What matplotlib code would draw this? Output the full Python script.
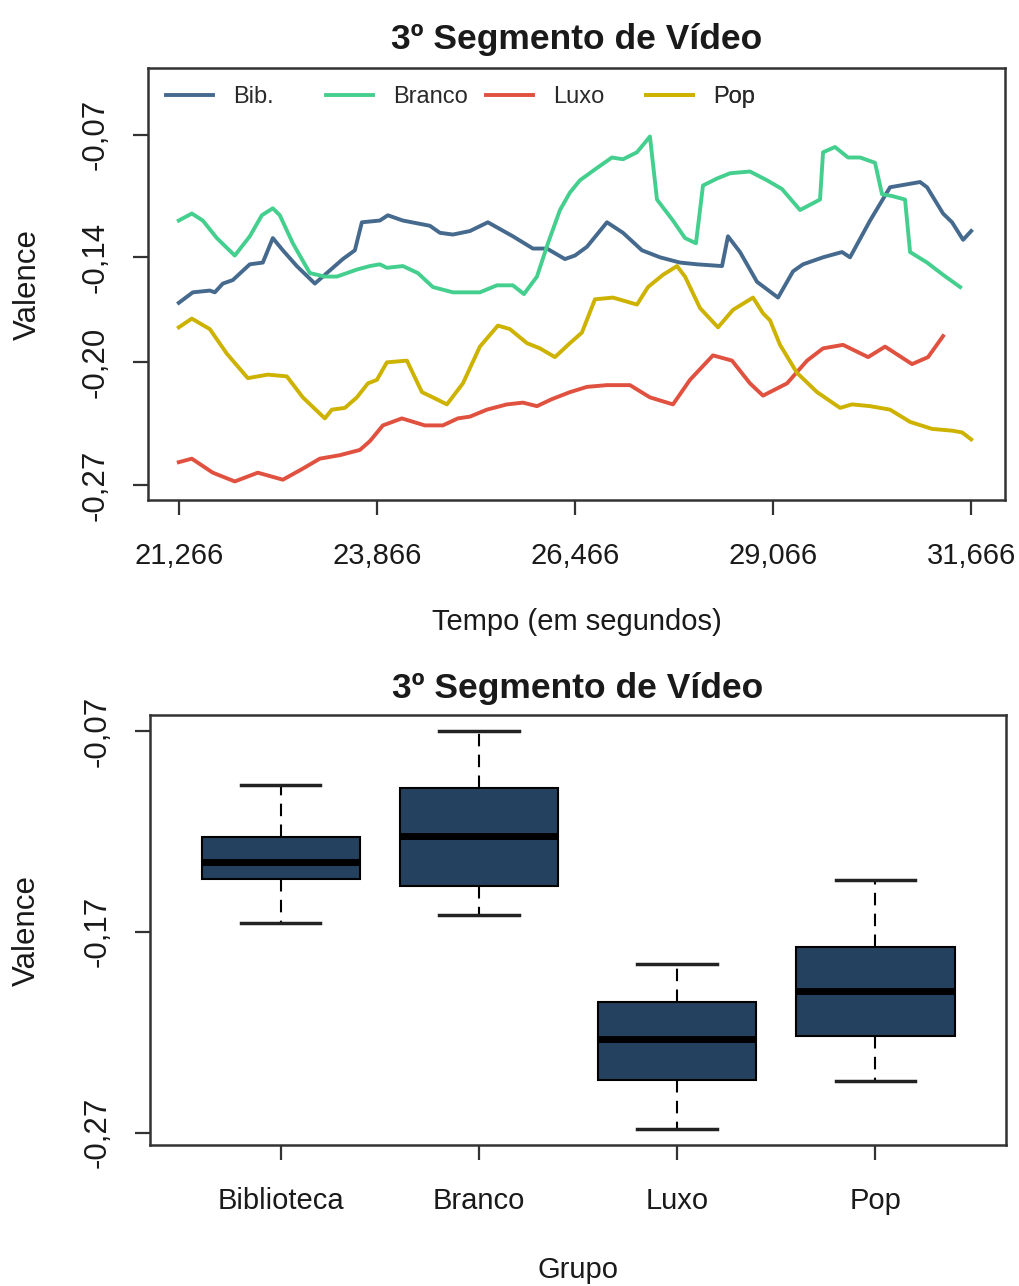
import matplotlib
matplotlib.use('Agg')
import matplotlib.pyplot as plt
from matplotlib.lines import Line2D

plt.rcParams['font.family'] = ['Liberation Sans', 'DejaVu Sans']

# ---- series (time in s, valence)
bib_t = [21266, 21450, 21673, 21739, 21844, 21975, 22198, 22369, 22500, 22632,
         22815, 23052, 23209, 23419, 23577, 23669, 23905, 24010, 24207, 24562,
         24693, 24864, 25087, 25323, 25651, 25914, 26098, 26334, 26465, 26623,
         26886, 27096, 27345, 27582, 27844, 28067, 28396, 28474, 28632, 28855,
         29131, 29328, 29459, 29722, 29971, 30076, 30339, 30601, 30995, 31087,
         31297, 31415, 31560, 31666]
bib_v = [-0.166, -0.160, -0.159, -0.160, -0.155, -0.153, -0.144, -0.143, -0.129, -0.136,
         -0.145, -0.155, -0.149, -0.141, -0.136, -0.120, -0.119, -0.116, -0.119, -0.122,
         -0.126, -0.127, -0.125, -0.120, -0.128, -0.135, -0.135, -0.141, -0.139, -0.134,
         -0.120, -0.126, -0.136, -0.140, -0.143, -0.144, -0.145, -0.128, -0.137, -0.154,
         -0.163, -0.148, -0.144, -0.140, -0.137, -0.140, -0.119, -0.100, -0.097, -0.100,
         -0.115, -0.120, -0.130, -0.125]

branco_t = [21266, 21437, 21581, 21765, 22001, 22198, 22356, 22500, 22592, 22763,
            22986, 23183, 23341, 23603, 23774, 23905, 23997, 24207, 24404, 24601,
            24864, 25218, 25441, 25651, 25796, 25967, 26111, 26269, 26400, 26531,
            26754, 26951, 27096, 27280, 27450, 27542, 27752, 27910, 28054, 28146,
            28330, 28501, 28763, 28986, 29183, 29420, 29682, 29722, 29879, 30050,
            30208, 30404, 30496, 30628, 30798, 30864, 31087, 31297, 31521]
branco_v = [-0.119, -0.115, -0.119, -0.129, -0.139, -0.128, -0.116, -0.112, -0.116, -0.132,
            -0.149, -0.151, -0.151, -0.147, -0.145, -0.144, -0.146, -0.145, -0.149, -0.157,
            -0.160, -0.160, -0.156, -0.156, -0.161, -0.151, -0.132, -0.113, -0.103, -0.096,
            -0.089, -0.083, -0.084, -0.080, -0.071, -0.107, -0.119, -0.129, -0.132, -0.099,
            -0.095, -0.092, -0.091, -0.096, -0.101, -0.113, -0.107, -0.080, -0.077, -0.083,
            -0.083, -0.086, -0.104, -0.105, -0.107, -0.137, -0.143, -0.150, -0.157]

luxo_t = [21266, 21437, 21712, 22001, 22303, 22632, 22881, 23117, 23380, 23643,
          23774, 23945, 24194, 24496, 24732, 24929, 25087, 25310, 25573, 25783,
          25967, 26163, 26400, 26623, 26886, 27188, 27450, 27752, 27975, 28277,
          28527, 28763, 28934, 29249, 29512, 29722, 29984, 30313, 30536, 30890,
          31100, 31297]
luxo_v = [-0.257, -0.255, -0.263, -0.268, -0.263, -0.267, -0.261, -0.255, -0.253, -0.250,
          -0.245, -0.236, -0.232, -0.236, -0.236, -0.232, -0.231, -0.227, -0.224, -0.223,
          -0.225, -0.221, -0.217, -0.214, -0.213, -0.213, -0.220, -0.224, -0.210, -0.196,
          -0.199, -0.212, -0.219, -0.212, -0.199, -0.192, -0.190, -0.197, -0.191, -0.201,
          -0.197, -0.185]

pop_t = [21266, 21437, 21673, 21896, 22172, 22435, 22684, 22894, 23183, 23275,
         23446, 23603, 23748, 23866, 23997, 24260, 24457, 24601, 24785, 24995,
         25218, 25454, 25612, 25835, 26006, 26203, 26400, 26557, 26728, 26964,
         27280, 27424, 27621, 27805, 27910, 28107, 28343, 28540, 28803, 28934,
         29026, 29157, 29380, 29643, 29945, 30102, 30339, 30601, 30864, 31153,
         31415, 31547, 31666]
pop_v = [-0.180, -0.175, -0.181, -0.195, -0.209, -0.207, -0.208, -0.220, -0.232, -0.227,
         -0.226, -0.220, -0.212, -0.210, -0.200, -0.199, -0.217, -0.220, -0.224, -0.212,
         -0.191, -0.179, -0.181, -0.189, -0.192, -0.197, -0.189, -0.183, -0.164, -0.163,
         -0.167, -0.157, -0.150, -0.145, -0.151, -0.169, -0.180, -0.170, -0.163, -0.172,
         -0.176, -0.190, -0.206, -0.217, -0.226, -0.224, -0.225, -0.227, -0.234, -0.238,
         -0.239, -0.240, -0.244]

line_names = ['Bib.', 'Branco', 'Luxo', 'Pop']
line_colors = ['#456a8e', '#45cf8e', '#e0513f', '#cdb200']

x_ticks = [21266, 23866, 26466, 29066, 31666]
x_ticklabels = ['21,266', '23,866', '26,466', '29,066', '31,666']
y_ticks_top = [-0.07, -0.14, -0.20, -0.27]
y_ticklabels_top = ['-0,07', '-0,14', '-0,20', '-0,27']

# ---- boxplot summary per group
groups = ['Biblioteca', 'Branco', 'Luxo', 'Pop']
whislo = [-0.1658, -0.1617, -0.2683, -0.2444]
q1 = [-0.1439, -0.1473, -0.2440, -0.2217]
med = [-0.1353, -0.1221, -0.2235, -0.1994]
q3 = [-0.1229, -0.0984, -0.2052, -0.1777]
whishi = [-0.0969, -0.0703, -0.1860, -0.1440]
y_ticks_bot = [-0.07, -0.17, -0.27]
y_ticklabels_bot = ['-0,07', '-0,17', '-0,27']

title = '3º Segmento de Vídeo'
edge = '#333333'
txt = '#1a1a1a'

fig = plt.figure(figsize=(10.2, 12.86), dpi=100)
ax1 = fig.add_axes([0.1451, 0.6112, 0.8402, 0.3359])
ax2 = fig.add_axes([0.1471, 0.1096, 0.8392, 0.3344])

# top: lines
series = [(bib_t, bib_v), (branco_t, branco_v), (luxo_t, luxo_v), (pop_t, pop_v)]
for (t, v), c in zip(series, line_colors):
    ax1.plot(t, v, color=c, lw=2.8, solid_joinstyle='round')

ax1.set_xlim(20862, 32110)
ax1.set_ylim(-0.2786, -0.0319)
ax1.set_xticks(x_ticks)
ax1.set_xticklabels(x_ticklabels)
ax1.set_yticks(y_ticks_top)
ax1.set_yticklabels(y_ticklabels_top, rotation=90, va='center')
ax1.tick_params(axis='x', length=11, width=1.6, color=edge, pad=19, labelsize=21,
                labelcolor=txt)
ax1.tick_params(axis='y', length=11, width=1.6, color=edge, pad=16, labelsize=22.5,
                labelcolor=txt)
ax1.set_title(title, fontsize=25.5, fontweight='bold', pad=14, color=txt)
ax1.set_xlabel('Tempo (em segundos)', fontsize=21, color=txt)
ax1.xaxis.set_label_coords(0.5, -0.25)
ax1.set_ylabel('Valence', fontsize=22.5, color=txt)
ax1.yaxis.set_label_coords(-0.123, 0.5)

# legend entries placed one by one like R's horizontal legend
leg_x = [0.021, 0.2077, 0.3944, 0.5811]
for name, c, lx in zip(line_names, line_colors, leg_x):
    leg = ax1.legend([Line2D([], [], color=c, lw=2.8)], [name], loc='center left',
                     bbox_to_anchor=(lx, 0.933), frameon=False, borderpad=0,
                     borderaxespad=0, handlelength=2.0, handletextpad=0.85,
                     fontsize=17, labelcolor='#2a2a2a')
    ax1.add_artist(leg)

# bottom: boxplot
stats = []
for g, lo, a, m, b, hi in zip(groups, whislo, q1, med, q3, whishi):
    stats.append({'label': g, 'whislo': lo, 'q1': a, 'med': m, 'q3': b, 'whishi': hi})
ax2.bxp(stats, positions=[1, 2, 3, 4], widths=0.8, showfliers=False, patch_artist=True,
        boxprops=dict(facecolor='#24425f', edgecolor='black', linewidth=1.5),
        medianprops=dict(color='black', linewidth=5, solid_capstyle='butt'),
        whiskerprops=dict(color='black', linewidth=1.5, linestyle=(0, (6, 4))),
        capprops=dict(color='#222222', linewidth=2.5),
        capwidths=0.4)
ax2.set_xlim(0.34, 4.66)
ax2.set_ylim(-0.2762, -0.0621)
ax2.set_yticks(y_ticks_bot)
ax2.set_yticklabels(y_ticklabels_bot, rotation=90, va='center')
ax2.tick_params(axis='x', length=11, width=1.6, color=edge, pad=19, labelsize=21,
                labelcolor=txt)
ax2.tick_params(axis='y', length=11, width=1.6, color=edge, pad=16, labelsize=22.5,
                labelcolor=txt)
ax2.set_title(title, fontsize=25.5, fontweight='bold', pad=12, color=txt)
ax2.set_xlabel('Grupo', fontsize=21, color=txt)
ax2.xaxis.set_label_coords(0.5, -0.258)
ax2.set_ylabel('Valence', fontsize=22.5, color=txt)
ax2.yaxis.set_label_coords(-0.126, 0.5)

for ax in (ax1, ax2):
    for s in ax.spines.values():
        s.set_linewidth(1.8)
        s.set_color(edge)

fig.savefig('out.png', dpi=100, facecolor='white')
